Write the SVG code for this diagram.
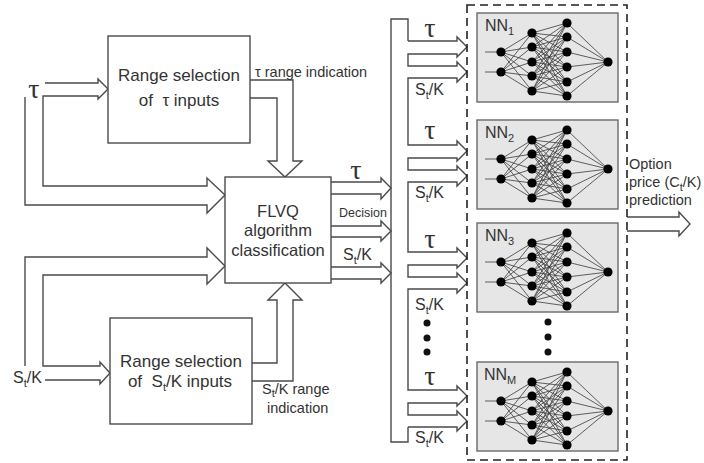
<svg xmlns="http://www.w3.org/2000/svg" xmlns:xlink="http://www.w3.org/1999/xlink" width="704" height="463" viewBox="0 0 704 463">
<style>
.ln{fill:none;stroke:#4a4a4a;stroke-width:1.4;stroke-linejoin:miter}
.box{fill:#fff;stroke:#4a4a4a;stroke-width:1.4}
.nnbox{fill:#e6e6e6;stroke:#6a6a6a;stroke-width:1.4}
.t{font-family:"Liberation Sans",Arial,sans-serif;fill:#333}
.big{font-size:17px}
.mid{font-size:16.5px}
.sm{font-size:14.5px}
.lab{font-size:16px}
.tau{font-family:"Liberation Serif","Times New Roman",serif;font-size:28px;fill:#333}
.sub{font-size:11px}
.mesh{fill:none;stroke:#3a3a3a;stroke-width:0.8}
.dash{fill:none;stroke:#222;stroke-width:1.6;stroke-dasharray:8 5}
</style>
<defs>
<g id="net">
<rect class="nnbox" x="0" y="0" width="141" height="89"/>
<path class="mesh" d="M8 39H24M8 59H24M24 39L55 20M24 39L55 34M24 39L55 49M24 39L55 63M24 39L55 78M24 59L55 20M24 59L55 34M24 59L55 49M24 59L55 63M24 59L55 78M55 20L90 10M55 20L90 24M55 20L90 39M55 20L90 54M55 20L90 69M55 20L90 83M55 34L90 10M55 34L90 24M55 34L90 39M55 34L90 54M55 34L90 69M55 34L90 83M55 49L90 10M55 49L90 24M55 49L90 39M55 49L90 54M55 49L90 69M55 49L90 83M55 63L90 10M55 63L90 24M55 63L90 39M55 63L90 54M55 63L90 69M55 63L90 83M55 78L90 10M55 78L90 24M55 78L90 39M55 78L90 54M55 78L90 69M55 78L90 83M90 10L131 49M90 24L131 49M90 39L131 49M90 54L131 49M90 69L131 49M90 83L131 49"/>
<g fill="#000">
<circle cx="24" cy="39" r="4.6"/><circle cx="24" cy="59" r="4.6"/>
<circle cx="55" cy="20" r="4.6"/><circle cx="55" cy="34" r="4.6"/><circle cx="55" cy="49" r="4.6"/><circle cx="55" cy="63" r="4.6"/><circle cx="55" cy="78" r="4.6"/>
<circle cx="90" cy="10" r="4.6"/><circle cx="90" cy="24" r="4.6"/><circle cx="90" cy="39" r="4.6"/><circle cx="90" cy="54" r="4.6"/><circle cx="90" cy="69" r="4.6"/><circle cx="90" cy="83" r="4.6"/>
<circle cx="131" cy="49" r="4.6"/>
</g>
</g>
</defs>

<g id="connectors">
<path class="ln" d="M45,83 H98 V79 L108,89 L98,99 V96 H43 V186 H207 V178 L225,195 L207,213 V205 H25 V97"/>
<path class="ln" d="M25,366 V257 H207 V248 L225,266 L207,284 V275 H43 V366 H100 V362 L110,373 L100,384 V380 H45"/>
<path class="ln" d="M250,80 H293 V161 H302 L285,177 L268,161 H277 V98 H250"/>
<path class="ln" d="M252,363 H277 V300 H268 L285,283 L302,300 H293 V381 H252"/>
<path class="ln" d="M331,182 H381 V178 L391,188 L381,199 V194 H331"/>
<path class="ln" d="M331,226 H381 V221 L391,231 L381,241 V237 H331"/>
<path class="ln" d="M331,267 H381 V263 L391,273 L381,283 V279 H331"/>
<path class="ln" d="M408,41 V19 H391 V442 H408 V427"/>
<path class="ln" d="M408,41 H457 V37 L467,47 L457,57 V54 H408 V66 H457 V62 L467,72 L457,82 V78 H408
 V145 H457 V141 L467,151 L457,161 V158 H408 V170 H457 V166 L467,176 L457,186 V182 H408
 V252 H457 V248 L467,258 L457,268 V265 H408 V277 H457 V273 L467,283 L457,293 V289 H408
 V390 H457 V386 L467,396 L457,406 V403 H408 V415 H457 V411 L467,421 L457,431 V427 H408"/>
<path class="ln" d="M627,217 H679 V212 L690,224 L679,236 V231 H627"/>
<g fill="#111">
<circle cx="427" cy="323" r="3.5"/><circle cx="427" cy="338" r="3.5"/><circle cx="427" cy="352" r="3.5"/>
</g>
</g>

<g id="inputs">
<text class="tau" x="34" y="98" text-anchor="middle">τ</text>
<text class="t lab" x="13" y="383">S<tspan class="sub" dy="4">t</tspan><tspan dy="-4">/K</tspan></text>
</g>

<g id="range-tau">
<rect class="box" x="108" y="36" width="142" height="107"/>
<text class="t big" x="179" y="81" text-anchor="middle">Range selection</text>
<text class="t big" x="179" y="106" text-anchor="middle" xml:space="preserve">of  τ inputs</text>
</g>
<text class="t sm" x="255" y="77">τ range indication</text>

<g id="range-sk">
<rect class="box" x="110" y="318" width="142" height="106"/>
<text class="t big" x="181" y="367" text-anchor="middle">Range selection</text>
<text class="t big" x="180" y="387" text-anchor="middle" xml:space="preserve">of  S<tspan class="sub" dy="4">t</tspan><tspan dy="-4">/K inputs</tspan></text>
</g>
<text class="t sm" x="262" y="394">S<tspan class="sub" dy="3">t</tspan><tspan dy="-3">/K range</tspan></text>
<text class="t sm" x="267" y="413">indication</text>

<g id="flvq">
<rect class="box" x="225" y="177" width="106" height="106"/>
<text class="t mid" x="278" y="217" text-anchor="middle">FLVQ</text>
<text class="t mid" x="278" y="236" text-anchor="middle">algorithm</text>
<text class="t mid" x="278" y="256" text-anchor="middle">classification</text>
</g>
<text class="tau" x="356" y="179" text-anchor="middle">τ</text>
<text class="t" x="363" y="217" text-anchor="middle" font-size="12.5">Decision</text>
<text class="t lab" x="343" y="260">S<tspan class="sub" dy="4">t</tspan><tspan dy="-4">/K</tspan></text>

<g id="bus-labels">
<text class="tau" x="430" y="37" text-anchor="middle">τ</text>
<text class="t lab" x="415" y="95">S<tspan class="sub" dy="4">t</tspan><tspan dy="-4">/K</tspan></text>
<text class="tau" x="430" y="139" text-anchor="middle">τ</text>
<text class="t lab" x="415" y="198">S<tspan class="sub" dy="4">t</tspan><tspan dy="-4">/K</tspan></text>
<text class="tau" x="430" y="248" text-anchor="middle">τ</text>
<text class="t lab" x="415" y="310">S<tspan class="sub" dy="4">t</tspan><tspan dy="-4">/K</tspan></text>
<text class="tau" x="430" y="385" text-anchor="middle">τ</text>
<text class="t lab" x="415" y="443">S<tspan class="sub" dy="4">t</tspan><tspan dy="-4">/K</tspan></text>
</g>

<rect id="ensemble" class="dash" x="467" y="5" width="160" height="455"/>

<g id="nn1">
<use xlink:href="#net" x="477" y="13"/>
<text class="t lab" x="485" y="31">NN<tspan class="sub" dy="4">1</tspan></text>
</g>
<g id="nn2">
<use xlink:href="#net" x="477" y="120"/>
<text class="t lab" x="485" y="138">NN<tspan class="sub" dy="4">2</tspan></text>
</g>
<g id="nn3">
<use xlink:href="#net" x="477" y="223"/>
<text class="t lab" x="485" y="241">NN<tspan class="sub" dy="4">3</tspan></text>
</g>
<g id="dots" fill="#111">
<circle cx="548" cy="322" r="3.5"/><circle cx="548" cy="337" r="3.5"/><circle cx="548" cy="352" r="3.5"/>
</g>
<g id="nnM">
<use xlink:href="#net" x="477" y="362"/>
<text class="t lab" x="484" y="380">NN<tspan class="sub" dy="4">M</tspan></text>
</g>

<g id="output">
<text class="t sm" x="629" y="169">Option</text>
<text class="t sm" x="629" y="187">price (C<tspan class="sub" dy="4">t</tspan><tspan dy="-4">/K)</tspan></text>
<text class="t sm" x="629" y="205">prediction</text>
</g>
</svg>
